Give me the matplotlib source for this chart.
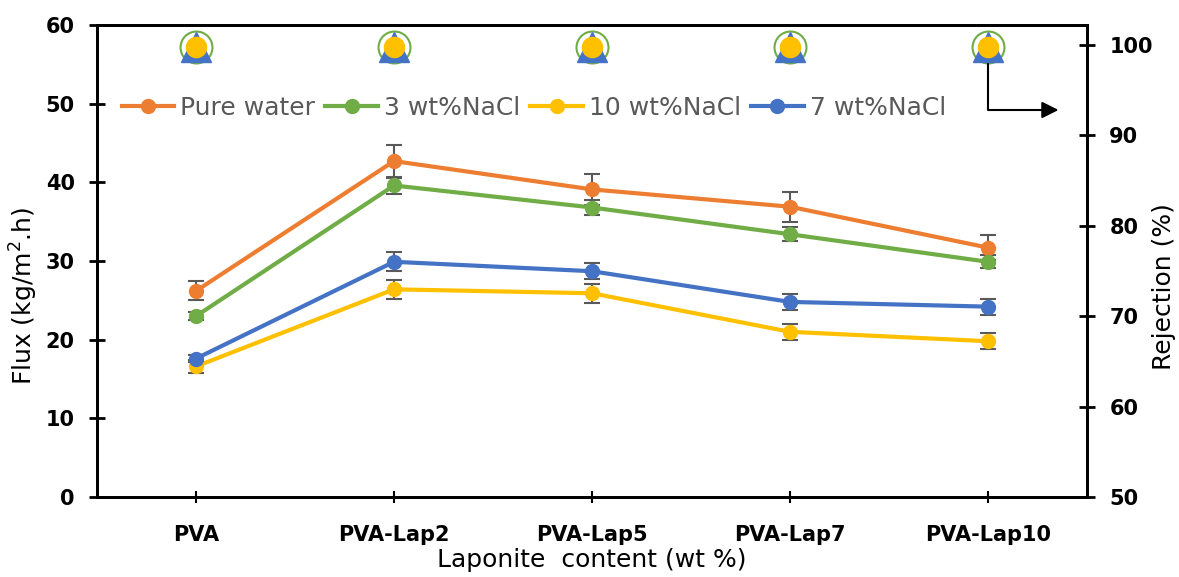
import matplotlib.pyplot as plt

samples = ['PVA', 'PVA-Lap2', 'PVA-Lap5', 'PVA-Lap7', 'PVA-Lap10']

# flux values (kg/m2.h) and error bars
pure_water = [26.2, 42.7, 39.1, 36.9, 31.7]
pure_water_err = [1.2, 2.1, 2.0, 1.9, 1.6]
nacl3 = [23.0, 39.6, 36.8, 33.4, 29.9]
nacl3_err = [0.5, 1.1, 0.9, 0.9, 0.8]
nacl10 = [16.6, 26.4, 25.9, 21.0, 19.8]
nacl10_err = [0.8, 1.2, 1.2, 1.0, 1.0]
nacl7 = [17.6, 29.9, 28.7, 24.8, 24.2]
nacl7_err = [0.5, 1.2, 1.0, 1.0, 1.0]

# salt rejection (%)
rej3 = [99.8, 99.8, 99.8, 99.8, 99.8]
rej7 = [99.8, 99.8, 99.8, 99.8, 99.8]
rej10 = [99.8, 99.8, 99.8, 99.8, 99.8]

orange = '#ED7D31'
green = '#70AD47'
yellow = '#FFC000'
blue = '#4472C4'
errc = '#595959'

x = list(range(len(samples)))

fig = plt.figure(figsize=(11.79, 5.77), dpi=100)
ax = fig.add_axes([0.0823, 0.1386, 0.8397, 0.8181])
ax2 = ax.twinx()

kw = dict(lw=3, marker='o', ms=10, ecolor=errc, elinewidth=1.5, capsize=6, capthick=1.5)
ax.errorbar(x, pure_water, yerr=pure_water_err, color=orange, label='Pure water', **kw)
ax.errorbar(x, nacl3, yerr=nacl3_err, color=green, label='3 wt%NaCl', **kw)
ax.errorbar(x, nacl10, yerr=nacl10_err, color=yellow, label='10 wt%NaCl', **kw)
ax.errorbar(x, nacl7, yerr=nacl7_err, color=blue, label='7 wt%NaCl', **kw)

ax.set_xlim(-0.5, 4.5)
ax.set_ylim(0, 60)
ax.set_yticks(range(0, 61, 10))
ax.set_xticks(x)
ax.set_xticklabels(samples)

ax2.plot(x, rej3, ls='none', marker='o', ms=23, mfc='white', mec=green, mew=1.5, zorder=2)
ax2.plot(x, rej7, ls='none', marker='^', ms=22, color=blue, zorder=3)
ax2.plot(x, rej10, ls='none', marker='o', ms=14.5, color=yellow, zorder=4)
ax2.set_ylim(50, 102.2)
ax2.set_yticks(range(50, 101, 10))

# arrow pointing to the rejection axis
ax2.plot([4, 4, 4.3], [rej7[4] - 1.5, 92.8, 92.8], color='black', lw=1.5)
ax2.annotate('', xy=(4.37, 92.8), xytext=(4.28, 92.8),
             arrowprops=dict(arrowstyle='-|>', color='black', lw=1.5, mutation_scale=25))

for a in (ax, ax2):
    for s in a.spines.values():
        s.set_linewidth(2)
    a.tick_params(axis='y', direction='inout', length=12, width=2, labelsize=15, pad=10)
    for lab in a.get_yticklabels():
        lab.set_fontweight('bold')
ax.tick_params(axis='x', direction='inout', length=8, width=1.5, labelsize=15, pad=16)
for lab in ax.get_xticklabels():
    lab.set_fontweight('bold')

ax.set_xlabel('Laponite  content (wt %)', fontsize=18)
ax.set_ylabel('Flux (kg/m$^2$.h)', fontsize=18)
ax2.set_ylabel('Rejection (%)', fontsize=18)
ax.xaxis.set_label_coords(0.5, -0.108)
ax.yaxis.set_label_coords(-0.058, 0.426)
ax2.yaxis.set_label_coords(1.066, 0.445)

handles, labels = ax.get_legend_handles_labels()
handles = [h[0] for h in handles]
leg = ax.legend(handles, labels, loc='center left', bbox_to_anchor=(0.002, 0.824), ncol=4,
                frameon=False, fontsize=18, handlelength=2.1, columnspacing=0.4,
                handletextpad=0.25, labelcolor='#595959')

fig.savefig('out.png', dpi=100)
